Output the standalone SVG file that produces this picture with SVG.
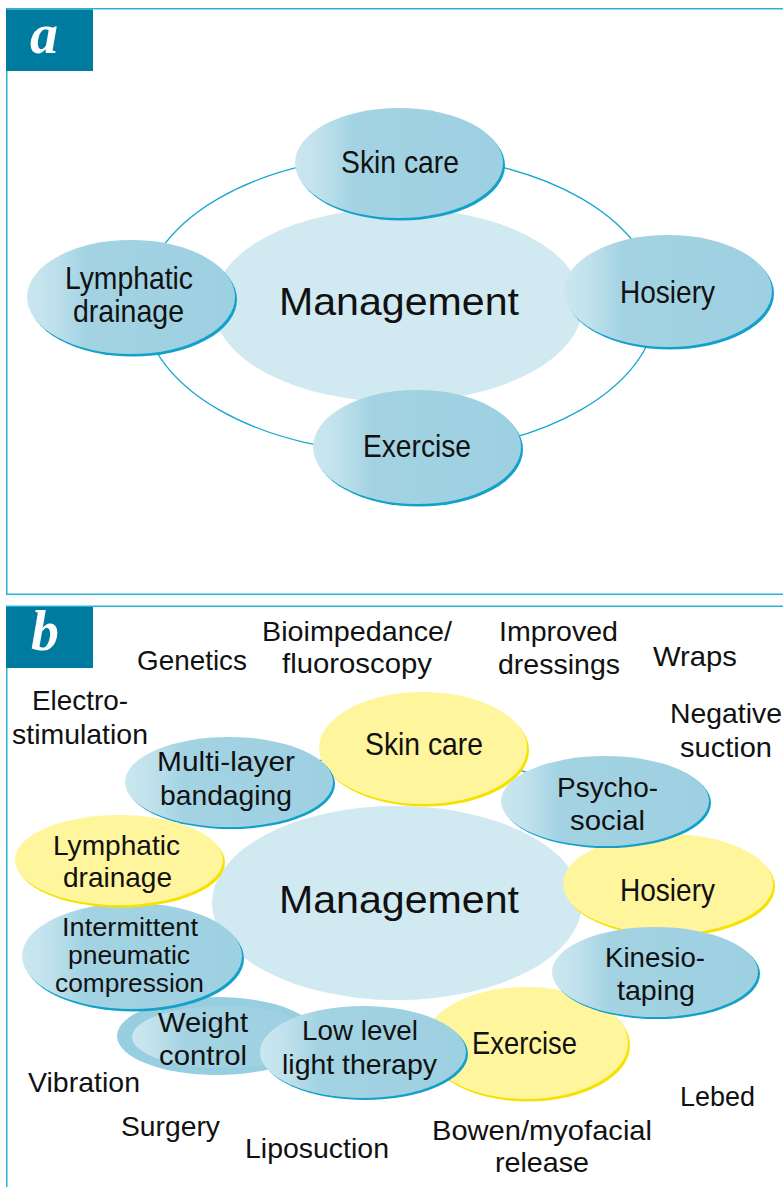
<svg xmlns="http://www.w3.org/2000/svg" width="783" height="1187" viewBox="0 0 783 1187">
  <defs>
    <linearGradient id="blueFill" x1="0" y1="0" x2="1" y2="0">
      <stop offset="0" stop-color="#cbe7f0"/>
      <stop offset="0.13" stop-color="#bfe1ec"/>
      <stop offset="0.28" stop-color="#a3d3e3"/>
      <stop offset="1" stop-color="#9dd0e1"/>
    </linearGradient>
    <style>
      .frame { fill: none; stroke: #2ab2d6; stroke-width: 1.5; }
      .tab { fill: #007ba0; }
      .tabletter { font-family: "Liberation Serif", "DejaVu Serif", serif; font-style: italic; font-weight: bold; font-size: 56px; fill: #ffffff; }
      .ring { fill: none; stroke: #1aa9cf; stroke-width: 1.3; }
      .core { fill: #d1e9f1; }
      .blue { fill: url(#blueFill); }
      .blueShade { fill: #12a1ca; }
      .blueOuter { fill: #97cee0; }
      .yellow { fill: #fff59c; }
      .yellowShade { fill: #f6e200; }
      text { font-family: "Liberation Sans", Arial, sans-serif; fill: #111111; }
      .big { font-size: 39px; }
      .lbl { font-size: 30.5px; }
      .lbl2 { font-size: 28px; }
      .small { font-size: 25px; }
      .free { font-size: 28px; }
    </style>
  </defs>

  <rect width="783" height="1187" fill="#ffffff"/>

  <!-- panel frames and letter tabs -->
  <g id="panel-a-frame">
    <rect class="frame" x="6.75" y="8.75" width="800" height="585.5"/>
    <rect class="tab" x="6" y="9.5" width="87" height="61.5"/>
    <text class="tabletter" x="44" y="53" text-anchor="middle">a</text>
  </g>
  <g id="panel-b-frame">
    <rect class="frame" x="6.75" y="606.25" width="800" height="600"/>
    <rect class="tab" x="6" y="607" width="87" height="61"/>
    <text class="tabletter" x="45" y="650" text-anchor="middle">b</text>
  </g>

  <!-- connectors -->
  <g id="connectors">
    <ellipse class="ring" cx="400" cy="304" rx="257" ry="149"/>
    <ellipse class="ring" cx="400" cy="902" rx="257" ry="149"/>
  </g>

  <!-- ===== panel a ===== -->
  <g id="a-management">
    <ellipse class="core" cx="398" cy="305" rx="185" ry="97"/>
    <text class="big" x="279" y="315" textLength="240" lengthAdjust="spacingAndGlyphs">Management</text>
  </g>
  <g id="a-skin-care">
    <ellipse class="blueShade" cx="401" cy="165.5" rx="104" ry="55"/>
    <ellipse class="blue" cx="399" cy="163" rx="104" ry="55"/>
    <text class="lbl" x="341" y="173" textLength="118" lengthAdjust="spacingAndGlyphs">Skin care</text>
  </g>
  <g id="a-hosiery">
    <ellipse class="blueShade" cx="670" cy="293.5" rx="104" ry="56"/>
    <ellipse class="blue" cx="668" cy="291" rx="104" ry="56"/>
    <text class="lbl" x="620" y="303" textLength="95" lengthAdjust="spacingAndGlyphs">Hosiery</text>
  </g>
  <g id="a-lymphatic-drainage">
    <ellipse class="blueShade" cx="133" cy="299.5" rx="104" ry="57"/>
    <ellipse class="blue" cx="131" cy="297" rx="104" ry="57"/>
    <text class="lbl" x="65" y="289" textLength="128" lengthAdjust="spacingAndGlyphs">Lymphatic</text>
    <text class="lbl" x="73" y="322" textLength="111" lengthAdjust="spacingAndGlyphs">drainage</text>
  </g>
  <g id="a-exercise">
    <ellipse class="blueShade" cx="419" cy="449.5" rx="104" ry="57"/>
    <ellipse class="blue" cx="417" cy="447" rx="104" ry="57"/>
    <text class="lbl" x="363" y="457" textLength="108" lengthAdjust="spacingAndGlyphs">Exercise</text>
  </g>

  <!-- ===== panel b ===== -->
  <g id="b-management">
    <ellipse class="core" cx="397" cy="903" rx="185" ry="97"/>
    <text class="big" x="279" y="913" textLength="240" lengthAdjust="spacingAndGlyphs">Management</text>
  </g>
  <g id="b-skin-care">
    <ellipse class="yellowShade" cx="425" cy="750.5" rx="104" ry="56"/>
    <ellipse class="yellow" cx="423" cy="748" rx="104" ry="56"/>
    <text class="lbl" x="365" y="755" textLength="118" lengthAdjust="spacingAndGlyphs">Skin care</text>
  </g>
  <g id="b-multi-layer-bandaging">
    <ellipse class="blueShade" cx="231" cy="784" rx="104" ry="45"/>
    <ellipse class="blue" cx="229" cy="782" rx="104" ry="45"/>
    <text class="lbl2" x="157" y="771" textLength="138" lengthAdjust="spacingAndGlyphs">Multi-layer</text>
    <text class="lbl2" x="160" y="805" textLength="132" lengthAdjust="spacingAndGlyphs">bandaging</text>
  </g>
  <g id="b-hosiery">
    <ellipse class="yellowShade" cx="670" cy="886.5" rx="105" ry="50"/>
    <ellipse class="yellow" cx="668" cy="884" rx="105" ry="50"/>
    <text class="lbl" x="620" y="901" textLength="95" lengthAdjust="spacingAndGlyphs">Hosiery</text>
  </g>
  <g id="b-psycho-social">
    <ellipse class="blueShade" cx="607" cy="803" rx="104" ry="45"/>
    <ellipse class="blue" cx="605" cy="801" rx="104" ry="45"/>
    <text class="lbl2" x="557" y="797" textLength="101" lengthAdjust="spacingAndGlyphs">Psycho-</text>
    <text class="lbl2" x="570" y="830" textLength="75" lengthAdjust="spacingAndGlyphs">social</text>
  </g>
  <g id="b-exercise">
    <ellipse class="yellowShade" cx="528" cy="1045.5" rx="102" ry="56"/>
    <ellipse class="yellow" cx="526" cy="1043" rx="102" ry="56"/>
    <text class="lbl" x="472" y="1054" textLength="105" lengthAdjust="spacingAndGlyphs">Exercise</text>
  </g>
  <g id="b-kinesio-taping">
    <ellipse class="blueShade" cx="657" cy="974" rx="103" ry="45"/>
    <ellipse class="blue" cx="655" cy="972" rx="103" ry="45"/>
    <text class="lbl2" x="605" y="967" textLength="100" lengthAdjust="spacingAndGlyphs">Kinesio-</text>
    <text class="lbl2" x="617" y="1000" textLength="78" lengthAdjust="spacingAndGlyphs">taping</text>
  </g>
  <g id="b-weight-control">
    <ellipse class="blueOuter" cx="217" cy="1036" rx="100" ry="39"/>
    <ellipse class="blue" cx="223" cy="1037" rx="91" ry="31"/>
    <text class="lbl2" x="158" y="1032" textLength="90" lengthAdjust="spacingAndGlyphs">Weight</text>
    <text class="lbl2" x="159" y="1065" textLength="88" lengthAdjust="spacingAndGlyphs">control</text>
  </g>
  <g id="b-low-level-light-therapy">
    <ellipse class="blueShade" cx="365" cy="1054" rx="103" ry="46"/>
    <ellipse class="blue" cx="363" cy="1052" rx="103" ry="46"/>
    <text class="lbl2" x="302" y="1040" textLength="116" lengthAdjust="spacingAndGlyphs">Low level</text>
    <text class="lbl2" x="282" y="1074" textLength="155" lengthAdjust="spacingAndGlyphs">light therapy</text>
  </g>
  <g id="b-intermittent-pneumatic-compression">
    <ellipse class="blueShade" cx="134" cy="958.5" rx="110" ry="53"/>
    <ellipse class="blue" cx="132" cy="956" rx="110" ry="53"/>
    <text class="small" x="62" y="936" textLength="136" lengthAdjust="spacingAndGlyphs">Intermittent</text>
    <text class="small" x="68" y="964" textLength="122" lengthAdjust="spacingAndGlyphs">pneumatic</text>
    <text class="small" x="55" y="992" textLength="149" lengthAdjust="spacingAndGlyphs">compression</text>
  </g>
  <g id="b-lymphatic-drainage">
    <ellipse class="yellowShade" cx="121" cy="862.5" rx="104" ry="45"/>
    <ellipse class="yellow" cx="119" cy="860" rx="104" ry="45"/>
    <text class="lbl2" x="53" y="855" textLength="127" lengthAdjust="spacingAndGlyphs">Lymphatic</text>
    <text class="lbl2" x="63" y="887" textLength="109" lengthAdjust="spacingAndGlyphs">drainage</text>
  </g>

  <!-- free-standing treatment labels -->
  <g id="b-outer-labels">
    <text class="free" x="137" y="670" textLength="110" lengthAdjust="spacingAndGlyphs">Genetics</text>
    <text class="free" x="262" y="641" textLength="190" lengthAdjust="spacingAndGlyphs">Bioimpedance/</text>
    <text class="free" x="282" y="673" textLength="150" lengthAdjust="spacingAndGlyphs">fluoroscopy</text>
    <text class="free" x="499" y="641" textLength="119" lengthAdjust="spacingAndGlyphs">Improved</text>
    <text class="free" x="498" y="674" textLength="122" lengthAdjust="spacingAndGlyphs">dressings</text>
    <text class="free" x="653" y="666" textLength="84" lengthAdjust="spacingAndGlyphs">Wraps</text>
    <text class="free" x="32" y="710" textLength="96" lengthAdjust="spacingAndGlyphs">Electro-</text>
    <text class="free" x="12" y="744" textLength="136" lengthAdjust="spacingAndGlyphs">stimulation</text>
    <text class="free" x="670" y="723" textLength="112" lengthAdjust="spacingAndGlyphs">Negative</text>
    <text class="free" x="680" y="757" textLength="92" lengthAdjust="spacingAndGlyphs">suction</text>
    <text class="free" x="28" y="1092" textLength="112" lengthAdjust="spacingAndGlyphs">Vibration</text>
    <text class="free" x="121" y="1136" textLength="99" lengthAdjust="spacingAndGlyphs">Surgery</text>
    <text class="free" x="245" y="1158" textLength="144" lengthAdjust="spacingAndGlyphs">Liposuction</text>
    <text class="free" x="432" y="1140" textLength="220" lengthAdjust="spacingAndGlyphs">Bowen/myofacial</text>
    <text class="free" x="495" y="1172" textLength="94" lengthAdjust="spacingAndGlyphs">release</text>
    <text class="free" x="680" y="1106" textLength="75" lengthAdjust="spacingAndGlyphs">Lebed</text>
  </g>
</svg>
